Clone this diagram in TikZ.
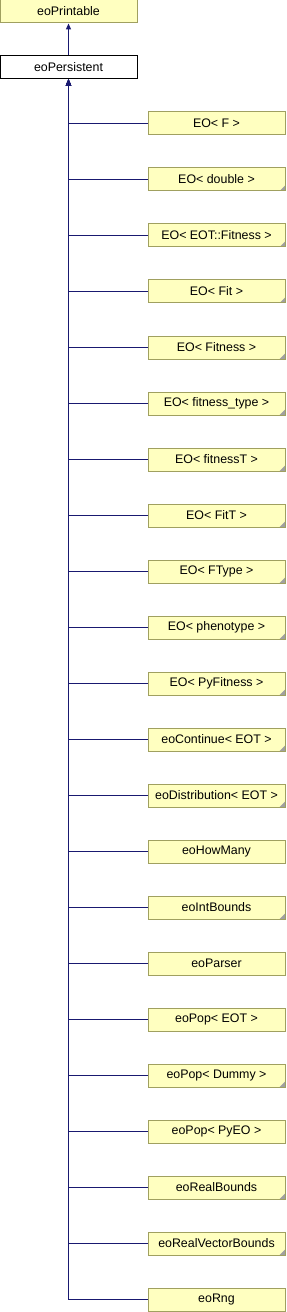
\documentclass[tikz,border=0pt]{standalone}
\usepackage{fontspec}
\setmainfont{Liberation Sans}
\usetikzlibrary{arrows.meta}
\definecolor{boxfill}{HTML}{FFFFC0}
\definecolor{boxline}{HTML}{A0A060}
\definecolor{edgeblue}{HTML}{191970}
\definecolor{corner}{HTML}{A0A0A0}
\tikzset{
  cls/.style={draw=boxline, fill=boxfill, line width=0.75pt, minimum width=137*0.75pt, minimum height=23*0.75pt, inner sep=0pt, font=\fontsize{9.3pt}{11pt}\selectfont},
  cur/.style={cls, draw=black, fill=white},
  edge/.style={draw=edgeblue, line width=0.75pt, -{Triangle[length=4.5pt,width=3.8pt]}},
  more/.style={path picture={\fill[corner] (path picture bounding box.south east) -- ++(-4pt,0) -- ++(4pt,4pt) -- cycle;}}
}
\begin{document}
\begin{tikzpicture}[x=0.75pt,y=-0.75pt]
\useasboundingbox (0,0) rectangle (286,1312);
\node[cls] (printable) at (68.5,11.5) {eoPrintable};
\node[cur] (persistent) at (68.5,67.5) {eoPersistent};
\draw[edge] (persistent) -- (printable);
\foreach \i/\t/\m in {
 0/{EO< F >}/0,
 1/{EO< double >}/1,
 2/{EO< EOT::Fitness >}/1,
 3/{EO< Fit >}/1,
 4/{EO< Fitness >}/1,
 5/{EO< fitness\_type >}/1,
 6/{EO< fitnessT >}/1,
 7/{EO< FitT >}/1,
 8/{EO< FType >}/1,
 9/{EO< phenotype >}/1,
 10/{EO< PyFitness >}/1,
 11/{eoContinue< EOT >}/1,
 12/{eoDistribution< EOT >}/1,
 13/{eoHowMany}/0,
 14/{eoIntBounds}/1,
 15/{eoParser}/0,
 16/{eoPop< EOT >}/0,
 17/{eoPop< Dummy >}/1,
 18/{eoPop< PyEO >}/0,
 19/{eoRealBounds}/1,
 20/{eoRealVectorBounds}/1,
 21/{eoRng}/0}{
  \ifnum\m=1
    \node[cls,more] (c\i) at (216.5,123.5+56*\i) {\t};
  \else
    \node[cls] (c\i) at (216.5,123.5+56*\i) {\t};
  \fi
  \draw[edge] (c\i.west) -| (persistent.south);
}
\end{tikzpicture}
\end{document}
